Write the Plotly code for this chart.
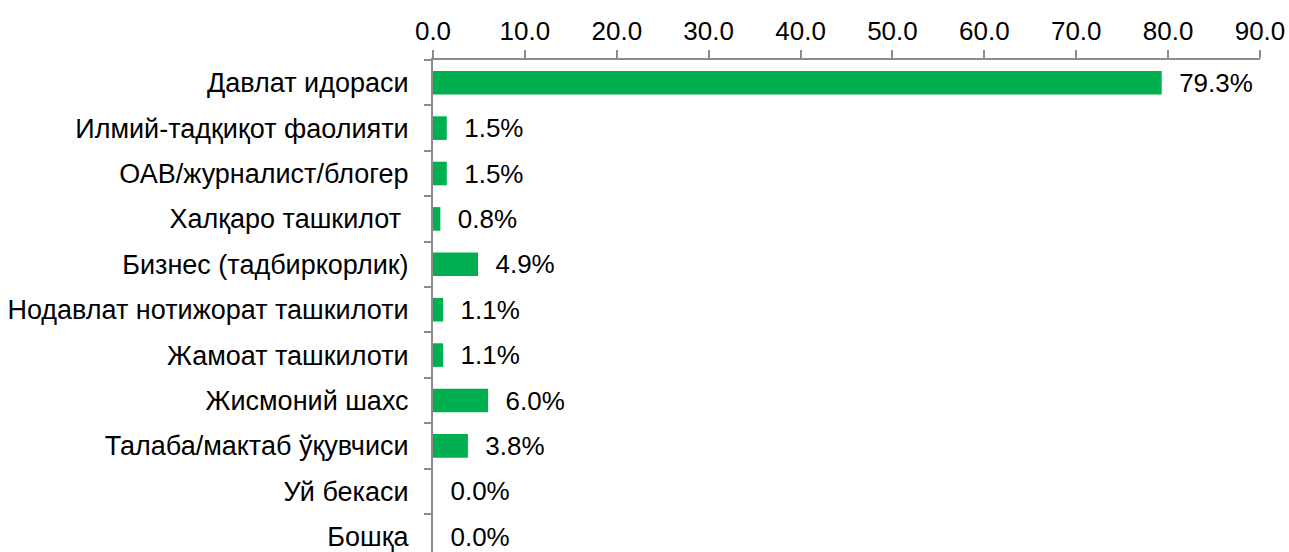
import plotly.graph_objects as go

categories = [
    "Давлат идораси",
    "Илмий-тадқиқот фаолияти",
    "ОАВ/журналист/блогер",
    "Халқаро ташкилот ",
    "Бизнес (тадбиркорлик)",
    "Нодавлат нотижорат ташкилоти",
    "Жамоат ташкилоти",
    "Жисмоний шахс",
    "Талаба/мактаб ўқувчиси",
    "Уй бекаси",
    "Бошқа",
]
values = [79.3, 1.5, 1.5, 0.8, 4.9, 1.1, 1.1, 6.0, 3.8, 0.0, 0.0]
x_ticks = [0, 10, 20, 30, 40, 50, 60, 70, 80, 90]

FONT = "Liberation Sans, Arial, sans-serif"
AXIS_COLOR = "#8c8c8c"

fig = go.Figure(
    go.Bar(
        x=values,
        y=categories,
        orientation="h",
        marker=dict(color="#00B050", line=dict(width=0)),
        width=0.52,
        text=["\u00a0\u00a0" + f"{v:.1f}%" for v in values],
        textposition="outside",
        constraintext="none",
        textfont=dict(family=FONT, size=26, color="#000000"),
        cliponaxis=False,
        hoverinfo="skip",
    )
)

fig.update_layout(
    width=1289,
    height=552,
    margin=dict(l=433, r=29, t=60, b=0, autoexpand=False),
    paper_bgcolor="white",
    plot_bgcolor="white",
    showlegend=False,
)

fig.update_xaxes(
    side="top",
    range=[0, 90],
    tickvals=x_ticks,
    ticktext=[f"{t:.1f}" for t in x_ticks],
    showgrid=False,
    zeroline=False,
    showline=True,
    linecolor=AXIS_COLOR,
    linewidth=2,
    ticks="outside",
    ticklen=8,
    tickwidth=2,
    tickcolor=AXIS_COLOR,
    ticklabeloverflow="allow",
    tickfont=dict(family=FONT, size=26, color="#000000"),
)

fig.update_yaxes(
    categoryorder="array",
    categoryarray=categories,
    range=[10.337, -0.5],
    showgrid=False,
    zeroline=False,
    showline=True,
    linecolor=AXIS_COLOR,
    linewidth=2,
    ticks="outside",
    tickson="boundaries",
    ticklen=7,
    tickwidth=2,
    tickcolor=AXIS_COLOR,
    ticklabelstandoff=17,
    ticklabeloverflow="allow",
    tickfont=dict(family=FONT, size=27, color="#000000"),
)

fig.write_html(
    "out.html",
    config={"displayModeBar": False, "staticPlot": True},
    post_script="document.body.style.margin='0';document.documentElement.style.overflow='hidden';",
)
